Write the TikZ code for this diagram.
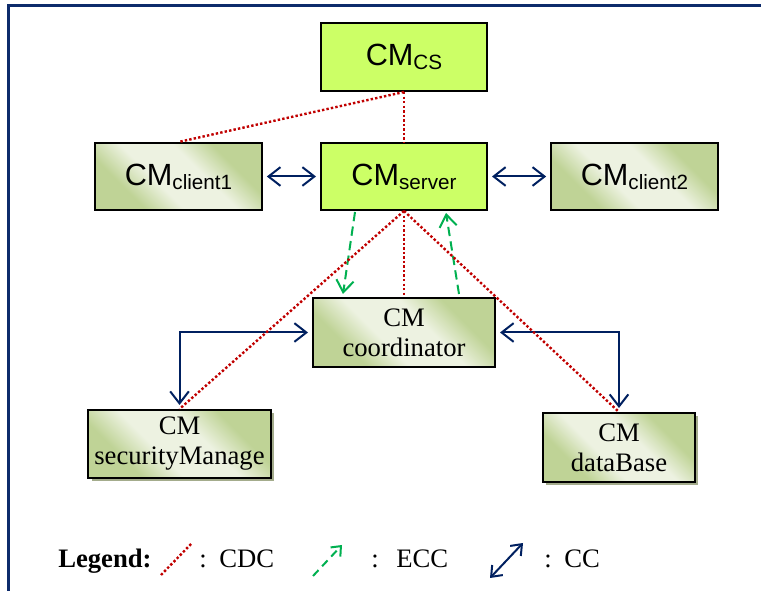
\documentclass[tikz,border=0pt]{standalone}
\usepackage{fontspec}
\setmainfont{Liberation Serif}
\newfontfamily\arialf{Liberation Sans}
\usetikzlibrary{arrows.meta,shadows,calc}
\definecolor{limecol}{HTML}{CCFF66}
\definecolor{gdark}{HTML}{BFD396}
\definecolor{glight}{HTML}{EDF2E1}
\definecolor{cdcred}{HTML}{C00000}
\definecolor{eccgreen}{HTML}{00B050}
\definecolor{ccblue}{HTML}{002060}
\definecolor{framecol}{HTML}{0D2B6B}
\definecolor{shadcol}{HTML}{A4AC8C}
\pgfdeclarehorizontalshading{diagshade}{100bp}{color(0bp)=(gdark); color(30bp)=(gdark); color(42bp)=(glight); color(58bp)=(glight); color(70bp)=(gdark); color(100bp)=(gdark)}
\newcommand\cmsub[1]{\raisebox{-3pt}{\fontsize{15.5}{18}\selectfont #1}}
\begin{document}
\begin{tikzpicture}[x=0.75pt,y=-0.75pt,
  boxbase/.style={draw=black, line width=1.5pt, inner sep=0pt, align=center},
  limebox/.style={boxbase, fill=limecol, font=\arialf\fontsize{23}{26}\selectfont},
  gradbox/.style={boxbase, shade, shading=diagshade, shading angle=45},
  sansbox/.style={gradbox, font=\arialf\fontsize{23}{26}\selectfont},
  serifbox/.style={gradbox, font=\fontsize{20}{22.5}\selectfont},
  shadowed/.style={general shadow={fill=shadcol, shadow xshift=2.5pt, shadow yshift=-2.5pt}},
  cdc/.style={draw=cdcred, line width=1.8pt, dash pattern=on 1.8pt off 1.6pt},
  ecc/.style={draw=eccgreen, line width=1.5pt, dash pattern=on 7pt off 4pt, -{Straight Barb[length=9pt,width=13pt]}},
  cc/.style={draw=ccblue, line width=1.5pt, {Straight Barb[length=9pt,width=14pt]}-{Straight Barb[length=9pt,width=14pt]}, shorten >=3pt, shorten <=3pt},
  legtext/.style={anchor=base west, font=\fontsize{20}{22}\selectfont, inner sep=0pt}]
\useasboundingbox (0,0) rectangle (761,591);
% frame
\draw[framecol, line width=1.6pt] (8.5,591) -- (8.5,5.5) -- (761,5.5);
% nodes
\node[limebox, minimum width=124.5pt, minimum height=51pt] (cs) at (404,57) {CM\cmsub{CS}};
\node[sansbox, minimum width=125pt, minimum height=50.25pt] (client1) at (178.5,176.5) {CM\cmsub{client1}};
\node[limebox, minimum width=124.5pt, minimum height=50.25pt] (server) at (404,176.5) {CM\cmsub{server}};
\node[sansbox, minimum width=125pt, minimum height=50.25pt] (client2) at (634.5,176.5) {CM\cmsub{client2}};
\node[serifbox, minimum width=136.5pt, minimum height=51.75pt] (coord) at (404,332.5) {CM\\coordinator};
\node[serifbox, shadowed, minimum width=137pt, minimum height=51pt] (sec) at (179.5,444) {CM\\securityManage};
\node[serifbox, shadowed, minimum width=114pt, minimum height=51.75pt] (db) at (619,447.5) {CM\\dataBase};
% CC connectors
\draw[cc] (client1.east) -- (server.west);
\draw[cc] (server.east) -- (client2.west);
\draw[cc] (coord.west) -| (sec.north);
\draw[cc] (coord.east) -| (db.north);
% ECC connectors
\draw[ecc] ($(server.south)+(-49,1)$) -- ($(coord.north)+(-61,-3)$);
\draw[ecc] ($(coord.north)+(55,-3)$) -- ($(server.south)+(42,2)$);
% CDC connectors
\draw[cdc] (cs.south) -- (client1.north);
\draw[cdc] (cs.south) -- (server.north);
\draw[cdc] (server.south) -- (sec.north);
\draw[cdc] (server.south) -- (coord.north);
\draw[cdc] (server.south) -- (db.north);
% legend
\node[anchor=base west, inner sep=0pt, font=\bfseries\fontsize{20}{22}\selectfont] (leg) at (58,568) {Legend:};
\coordinate (r1) at (161,575);
\coordinate (r2) at (192,543);
\draw[cdc] (r1) -- (r2);
\node[legtext] (c1) at (199,568) {:};
\node[legtext] (t1) at (219,568) {CDC};
\coordinate (g1) at (313,576);
\coordinate (g2) at (342,545);
\draw[draw=eccgreen, line width=1.5pt, dash pattern=on 6pt off 4pt, -{Straight Barb[length=6pt,width=10pt]}] (g1) -- (g2);
\node[legtext] (c2) at (371,568) {:};
\node[legtext] (t2) at (396,568) {ECC};
\coordinate (b1) at (490,578);
\coordinate (b2) at (523,543);
\draw[draw=ccblue, line width=1.5pt, {Straight Barb[length=7pt,width=11pt]}-{Straight Barb[length=7pt,width=11pt]}] (b1) -- (b2);
\node[legtext] (c3) at (544,568) {:};
\node[legtext] (t3) at (564,568) {CC};
\end{tikzpicture}
\end{document}
